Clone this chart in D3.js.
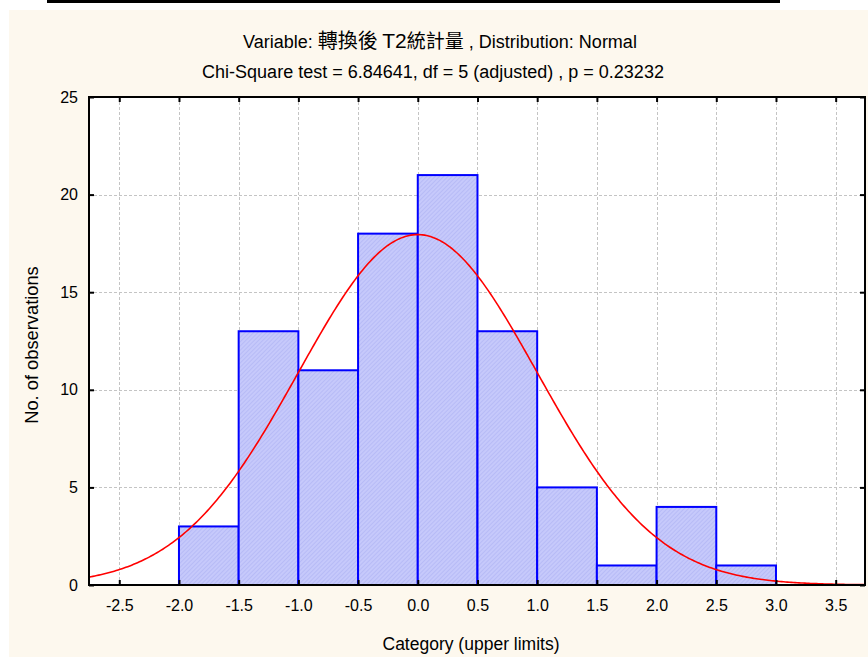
<!DOCTYPE html>
<html><head><meta charset="utf-8">
<script src="https://cdn.jsdelivr.net/npm/d3@7"></script>
<style>body{margin:0;background:#fff;}svg{display:block;}</style>
</head><body>
<script>
const binLower = [-2.0, -1.5, -1.0, -0.5, 0.0, 0.5, 1.0, 1.5, 2.0, 2.5];
const binUpper = [-1.5, -1.0, -0.5, 0.0, 0.5, 1.0, 1.5, 2.0, 2.5, 3.0];
const counts   = [3, 13, 11, 18, 21, 13, 5, 1, 4, 1];
const xTicks = [-2.5, -2.0, -1.5, -1.0, -0.5, 0.0, 0.5, 1.0, 1.5, 2.0, 2.5, 3.0, 3.5];
const yTicks = [0, 5, 10, 15, 20, 25];
const fitMean = 0.0, fitSD = 1.0, fitN = 90, binWidth = 0.5;
const titleLine1a = "Variable:  ", titleLine1b = "轉換後 ", titleLine1c = "T2", titleLine1d = "統計量", titleLine1e = " , Distribution: Normal";
const titleLine2 = "Chi-Square test = 6.84641, df = 5 (adjusted) , p = 0.23232";
const xLabel = "Category (upper limits)";
const yLabel = "No. of observations";

const W = 868, H = 657;
const L = 89, R = 865, T = 97, B = 585;
const svg = d3.select("body").append("svg").attr("width", W).attr("height", H);
const defs = svg.append("defs");
const pat = defs.append("pattern").attr("id","hatch").attr("patternUnits","userSpaceOnUse")
  .attr("width",3).attr("height",3).attr("patternTransform","rotate(45)");
pat.append("rect").attr("width",3).attr("height",3).attr("fill","#c6c9fb");
pat.append("line").attr("x1",0).attr("y1",0).attr("x2",0).attr("y2",3).attr("stroke","#a9adf2").attr("stroke-width",1);

svg.append("rect").attr("x",0).attr("y",0).attr("width",W).attr("height",H).attr("fill","#ffffff");
svg.append("rect").attr("x",9).attr("y",10).attr("width",W-9).attr("height",H-10).attr("fill","#fdf8ee");
svg.append("rect").attr("x",47).attr("y",0).attr("width",733).attr("height",3).attr("fill","#000");

const x = d3.scaleLinear().domain([-2.7535, 3.7455]).range([L, R]);
const y = d3.scaleLinear().domain([0, 25]).range([B, T]);

svg.append("rect").attr("x",L).attr("y",T).attr("width",R-L).attr("height",B-T).attr("fill","#fff");

// grid
const grid = svg.append("g").attr("stroke","#c4c4c4").attr("stroke-dasharray","3,2").attr("stroke-width",1);
xTicks.forEach(t => grid.append("line").attr("x1",Math.round(x(t))+0.5).attr("x2",Math.round(x(t))+0.5).attr("y1",T).attr("y2",B));
yTicks.filter(t=>t>0 && t<25).forEach(t => grid.append("line").attr("y1",Math.round(y(t))+0.5).attr("y2",Math.round(y(t))+0.5).attr("x1",L).attr("x2",R));

// bars
const bars = binLower.map((lo,i)=>({lo, hi: binUpper[i], c: counts[i]}));
svg.append("g").selectAll("rect").data(bars).join("rect")
  .attr("x", d=>x(d.lo)).attr("width", d=>x(d.hi)-x(d.lo))
  .attr("y", d=>y(d.c)).attr("height", d=>y(0)-y(d.c))
  .attr("fill","url(#hatch)").attr("stroke","#0000ff").attr("stroke-width",2);

// normal fit curve
const clip = defs.append("clipPath").attr("id","pc");
clip.append("rect").attr("x",L).attr("y",T).attr("width",R-L).attr("height",B-T);
const pts = d3.range(0, 401).map(i => {
  const xv = -2.7535 + i*(3.7455+2.7535)/400;
  const z = (xv - fitMean)/fitSD;
  return [xv, fitN*binWidth*Math.exp(-0.5*z*z)/(fitSD*Math.sqrt(2*Math.PI))];
});
svg.append("path").datum(pts).attr("clip-path","url(#pc)")
  .attr("d", d3.line().x(d=>x(d[0])).y(d=>y(d[1])))
  .attr("fill","none").attr("stroke","#ff0000").attr("stroke-width",1.6);

// axes
const font = "'Liberation Sans', Arial, sans-serif";
const fmt = d => d3.format(".1f")(d).replace("−","-");
const gx = svg.append("g").attr("transform",`translate(0,${B})`)
  .call(d3.axisBottom(x).tickValues(xTicks).tickFormat(fmt).tickSizeInner(-5).tickSizeOuter(0).tickPadding(15));
const gxt = svg.append("g").attr("transform",`translate(0,${T})`)
  .call(d3.axisTop(x).tickValues(xTicks).tickFormat("").tickSizeInner(-5).tickSizeOuter(0));
const gy = svg.append("g").attr("transform",`translate(${L},0)`)
  .call(d3.axisLeft(y).tickValues(yTicks).tickSizeInner(-5).tickSizeOuter(0).tickPadding(11));
const gyr = svg.append("g").attr("transform",`translate(${R},0)`)
  .call(d3.axisRight(y).tickValues(yTicks).tickFormat("").tickSizeInner(-5).tickSizeOuter(0));
[gx,gxt,gy,gyr].forEach(g=>{
  g.select(".domain").remove();
  g.selectAll(".tick line").attr("stroke","#000").attr("stroke-width",2);
  g.selectAll("text").attr("font-family",font).attr("font-size",16).attr("fill","#000");
});
svg.append("rect").attr("x",L).attr("y",T).attr("width",R-L).attr("height",B-T)
  .attr("fill","none").attr("stroke","#000").attr("stroke-width",2);

// titles
const t1 = svg.append("text").attr("x",440).attr("y",48).attr("text-anchor","middle")
  .attr("font-family",font).attr("font-size",18).attr("fill","#000");
t1.append("tspan").text(titleLine1a);
t1.append("tspan").attr("font-family","'Noto Sans CJK TC'").attr("font-size",20).text(titleLine1b);
t1.append("tspan").attr("font-size",21).text(titleLine1c);
t1.append("tspan").attr("font-family","'Noto Sans CJK TC'").attr("font-size",19).text(titleLine1d);
t1.append("tspan").text(titleLine1e);
svg.append("text").attr("x",433).attr("y",78).attr("text-anchor","middle")
  .attr("font-family",font).attr("font-size",18).attr("fill","#000").text(titleLine2);

svg.append("text").attr("x",471).attr("y",650).attr("text-anchor","middle")
  .attr("font-family",font).attr("font-size",17.5).attr("fill","#000").text(xLabel);
svg.append("text").attr("transform","translate(38,345) rotate(-90)").attr("text-anchor","middle")
  .attr("font-family",font).attr("font-size",18.3).attr("fill","#000").text(yLabel);
</script>
</body></html>
